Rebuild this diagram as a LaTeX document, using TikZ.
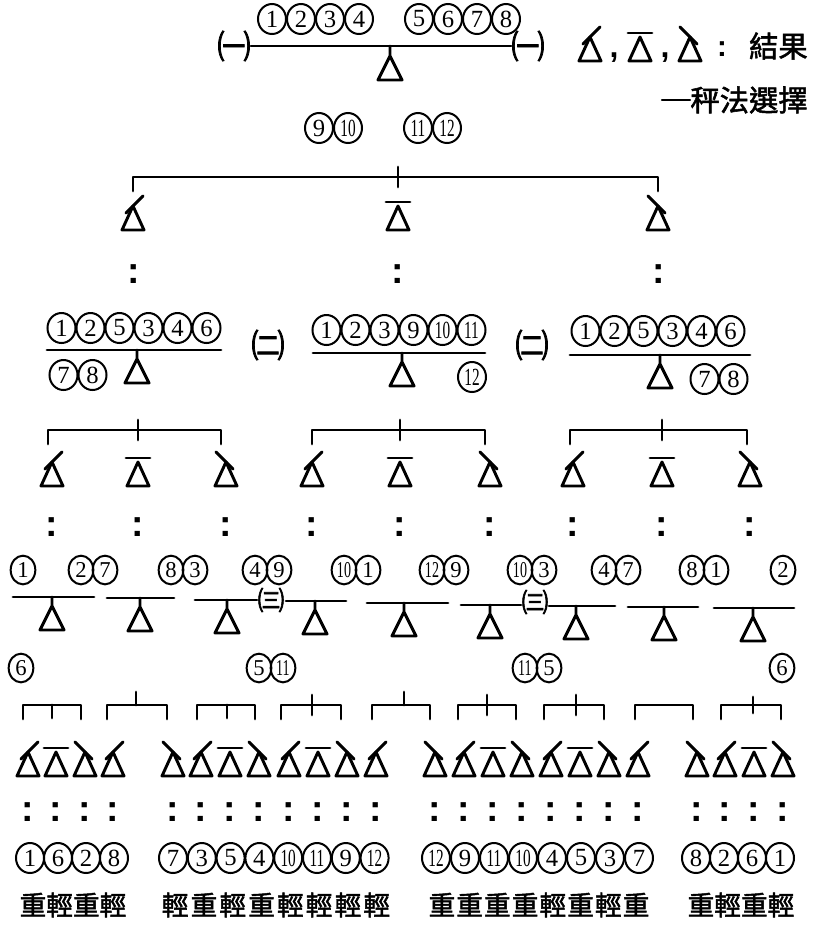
\documentclass[tikz,border=0pt]{standalone}
\usepackage{fontspec}
\usepackage{graphicx}
\setmainfont{Liberation Serif}
\setsansfont{Liberation Sans}
\newfontfamily\parf[FakeBold=2.2]{Noto Sans CJK JP}
\newfontfamily\cjkf[FakeBold=1.8]{Noto Sans CJK TC}
\usetikzlibrary{shapes.geometric}
\tikzset{
  lw/.style={line width=2.2pt,line cap=round,line join=round},
  cn/.style={ellipse,draw,line width=1.5pt,minimum width=21pt,minimum height=22.5pt,inner sep=0pt,
    font=\fontsize{18.5}{18.5}\selectfont},
  scn/.style={cn,minimum width=18.5pt,minimum height=21.5pt,font=\fontsize{17}{17}\selectfont},
  paren/.style={font=\parf\fontsize{25}{25}\selectfont,inner sep=0pt},
  hanzi/.style={font=\cjkf\fontsize{20}{20}\selectfont,inner sep=0pt},
  dotcol/.style={font=\sffamily\bfseries\fontsize{28}{28}\selectfont,inner sep=0pt,anchor=base},
  comma/.style={font=\sffamily\bfseries\fontsize{24}{24}\selectfont,inner sep=0pt,anchor=base},
  pics/lft/.style={code={\draw[lw] (0,0) -- (-11,24) -- (11,24) -- cycle; \draw[lw] (-7,7) -- (10,-10);}},
  pics/lvl/.style={code={\draw[lw] (0,0) -- (-11,24) -- (11,24) -- cycle; \draw[lw] (-12,-4) -- (12,-4);}},
  pics/rgt/.style={code={\draw[lw] (0,0) -- (-11,24) -- (11,24) -- cycle; \draw[lw] (7,7) -- (-10,-10);}},
}
\newcommand\cnfmt[1]{\ifnum#1>9 \scalebox{0.62}[1]{#1}\else #1\fi}
% row of circled numbers: style, name prefix, first x, y, pitch, list
\newcommand\cnrow[6]{%
  \foreach \n [count=\i] in {#6}{\node[#1] (#2\i) at ({#3+(\i-1)*#5},#4) {\cnfmt{\n}};}}
% balance: xl xr y cx
\newcommand\wbal[4]{%
  \draw[lw] (#1,#3) -- (#2,#3);
  \draw[lw] (#4,#3) -- ++(0,9) -- ++(-12,24) -- ++(24,0) -- ++(-12,-24);}
% bracket: xl xr y tick-x
\newcommand\brk[4]{%
  \draw[lw] (#1,#3) ++(0,14) -- ++(0,-14) -- (#2,#3) -- ++(0,14);
  \draw[lw] (#4,#3) ++(0,-10) -- ++(0,20);}
\newcommand\sbrk[3]{%
  \draw[lw] (#1,#3) ++(0,14) -- ++(0,-14) -- (#2,#3) -- ++(0,14);}
\newcommand\colonat[2]{\node[dotcol] at (#1,#2) {:};}
\begin{document}
\begin{tikzpicture}[x=0.75pt,y=-0.75pt]
\useasboundingbox (0,0) rectangle (813,947);
% ---------- top weighing ----------
\cnrow{cn}{ta}{272}{19}{29}{1,2,3,4}
\cnrow{cn}{tb}{419}{19}{29}{5,6,7,8}
\node[paren] (p0a) at (234,46) {㈠};
\node[paren] (p0b) at (528,46) {㈠};
\draw[lw] (p0a.east) -- (p0b.west);
\draw[lw] (390,46) -- ++(0,10) -- ++(-12,24) -- ++(24,0) -- ++(-12,-24);
\cnrow{cn}{tc}{319}{128}{29}{9,10}
\cnrow{cn}{td}{418}{128}{29}{11,12}
% legend
\pic at (590,37) {lft};
\node[comma] (cm1) at (614,57) {,};
\pic at (640,37) {lvl};
\node[comma] (cm2) at (665,57) {,};
\pic at (690,37) {rgt};
\node[dotcol,font=\sffamily\bfseries\fontsize{22}{22}\selectfont] (cl) at (722,56) {:};
\node[hanzi,font=\cjkf\fontsize{22}{22}\selectfont,anchor=east] (res) at (808,46) {結果};
\node[hanzi,font=\cjkf\fontsize{22}{22}\selectfont,anchor=east] (meth) at (808,100) {秤法選擇};
\draw[lw,line width=1.6pt] (662,100) -- (meth.west);
% ---------- level 1 ----------
\brk{133}{658}{177}{398}
\pic at (133,206) {lft};
\pic at (398,206) {lvl};
\pic at (658,206) {rgt};
\colonat{134}{283}
\colonat{398}{283}
\colonat{659}{283}
% ---------- level 2 ----------
\cnrow{cn}{a}{61.5}{328}{29}{1,2,5,3,4,6}
\wbal{47}{221}{350}{137}
\cnrow{cn}{aa}{63.5}{375}{29}{7,8}
\node[paren] (p1a) at (268,345) {㈡};
\cnrow{cn}{b}{326.5}{330}{29}{1,2,3,9,10,11}
\wbal{313}{485}{353}{402}
\cnrow{cn}{bb}{472}{377}{29}{12}
\node[paren] (p1b) at (532,345) {㈡};
\cnrow{cn}{c}{585.5}{331}{29}{1,2,5,3,4,6}
\wbal{570}{750}{355}{660}
\cnrow{cn}{cc}{704.5}{379}{29}{7,8}
% brackets level 2
\brk{48}{221}{430}{138}
\brk{312}{485}{430}{400}
\brk{570}{747}{430}{662}
\foreach \x/\k in {52/lft,138/lvl,226/rgt,312/lft,400/lvl,490/rgt,573/lft,662/lvl,750/rgt}{
  \pic at (\x,462) {\k};
  \colonat{\x}{536}
}
% ---------- level 3 ----------
\cnrow{scn}{d}{23}{570}{24}{1}
\cnrow{scn}{dd}{81}{570}{24}{2,7}
\cnrow{scn}{de}{171}{570}{24}{8,3}
\cnrow{scn}{df}{255}{570}{24}{4,9}
\cnrow{scn}{dg}{344}{570}{24}{10,1}
\cnrow{scn}{dh}{432}{570}{24}{12,9}
\cnrow{scn}{di}{520}{570}{24}{10,3}
\cnrow{scn}{dj}{604}{570}{24}{4,7}
\cnrow{scn}{dk}{692}{570}{24}{8,1}
\cnrow{scn}{dl}{783}{570}{24}{2}
\wbal{13}{94}{597}{52}
\wbal{107}{174}{598}{140}
\wbal{195}{257}{600}{227}
\node[paren,font=\parf\fontsize{20}{20}\selectfont] (p2a) at (271,600) {㈢};
\wbal{286}{346}{601}{315}
\wbal{367}{448}{603}{404}
\wbal{461}{521}{605}{490}
\node[paren,font=\parf\fontsize{20}{20}\selectfont] (p2b) at (535,602) {㈢};
\wbal{549}{615}{606}{576}
\wbal{628}{698}{607}{664}
\wbal{714}{794}{608}{753}
\cnrow{scn}{e}{21}{668}{24}{6}
\cnrow{scn}{ee}{259}{668}{24}{5,11}
\cnrow{scn}{ef}{525}{668}{24}{11,5}
\cnrow{scn}{eg}{782}{668}{24}{6}
% ---------- level 4 brackets ----------
\sbrk{23}{81}{705}   \draw[lw] (52,705) -- ++(0,13);
\sbrk{107}{167}{705} \draw[lw] (136,705) -- ++(0,-13);
\sbrk{197}{255}{705} \draw[lw] (227,705) -- ++(0,13);
\sbrk{281}{341}{705} \draw[lw] (312,695) -- ++(0,20);
\sbrk{372}{430}{705} \draw[lw] (404,705) -- ++(0,-13);
\sbrk{458}{516}{705} \draw[lw] (487,695) -- ++(0,20);
\sbrk{544}{604}{705} \draw[lw] (576,695) -- ++(0,20);
\sbrk{635}{693}{705}
\sbrk{721}{781}{705} \draw[lw] (753,697) -- ++(0,16);
% ---------- level 4 outcomes ----------
\foreach \x/\k in {28/lft,56/lvl,85/rgt,113/lft,
  173/rgt,201/lft,230/lvl,259/rgt,289/lft,318/lvl,347/rgt,376/lft,
  435/rgt,464/lft,493/lvl,522/rgt,551/lft,580/lvl,609/rgt,638/lft,
  697/rgt,725/lft,754/lvl,783/rgt}{
  \pic at (\x,752) {\k};
  \colonat{\x}{821}
}
\cnrow{cn}{f}{30}{858}{28}{1,6,2,8}
\cnrow{cn}{g}{173}{858}{28.8}{7,3,5,4,10,11,9,12}
\cnrow{cn}{h}{436}{858}{29}{12,9,11,10,4,5,3,7}
\cnrow{cn}{k}{696}{858}{28}{8,2,6,1}
\node[hanzi] (g1) at (73,905) {重輕重輕};
\node[hanzi,font=\cjkf\fontsize{20}{20}\selectfont\addfontfeature{LetterSpace=8}] (g2) at (276,905) {輕重輕重輕輕輕輕};
\node[hanzi,font=\cjkf\fontsize{20}{20}\selectfont\addfontfeature{LetterSpace=4}] (g3) at (539,905) {重重重重輕重輕重};
\node[hanzi] (g4) at (741,905) {重輕重輕};
\end{tikzpicture}
\end{document}
